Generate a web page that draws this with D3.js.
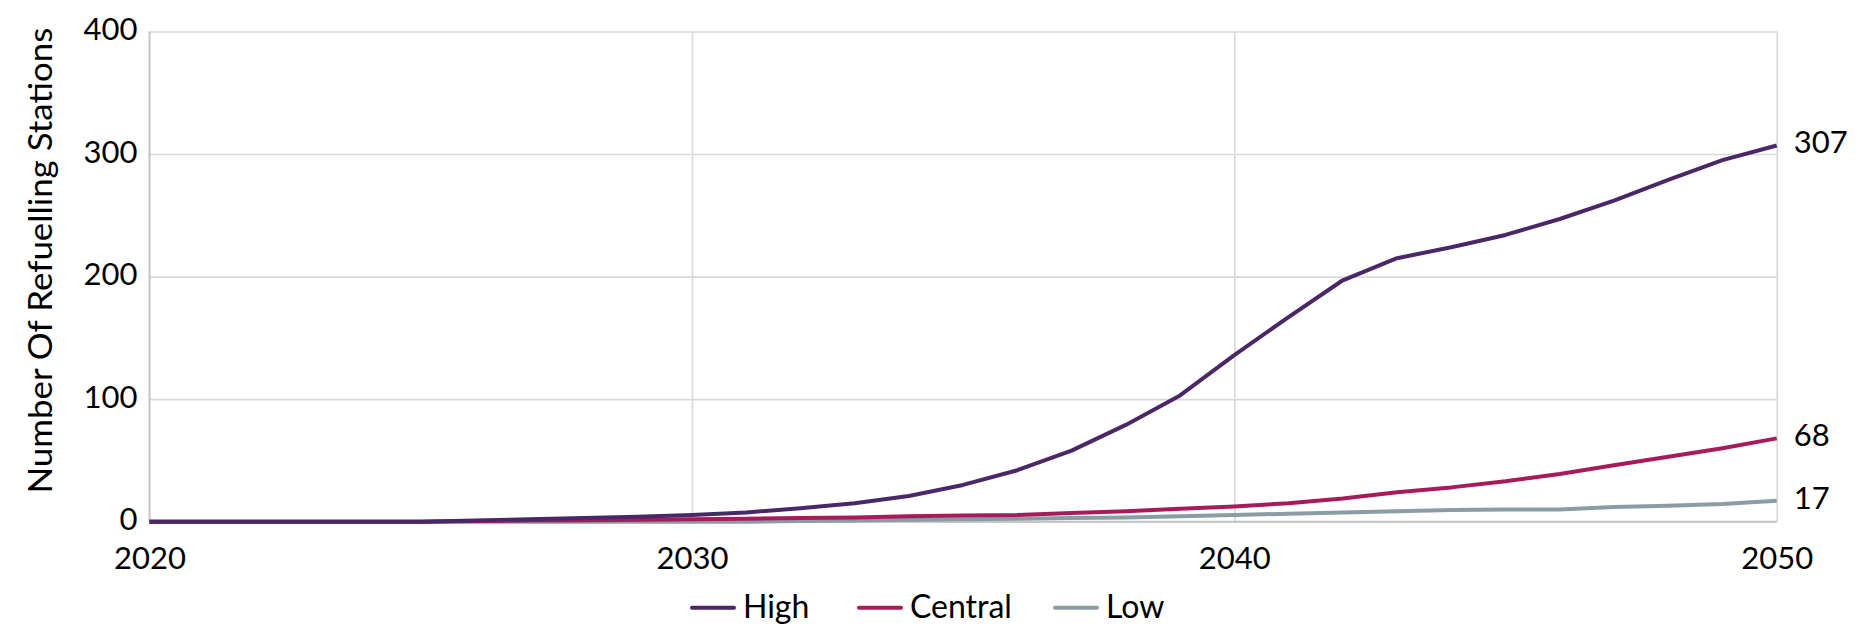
<!DOCTYPE html>
<html>
<head>
<meta charset="utf-8">
<script src="https://cdn.jsdelivr.net/npm/d3@7"></script>
<style>
  html, body { margin: 0; padding: 0; background: #fff; }
  svg { display: block; }
  text { font-family: Lato, "Open Sans", sans-serif; fill: #000; }
</style>
</head>
<body>
<svg id="chart" width="1856" height="633"></svg>
<script>
// ---- data ----
const years = d3.range(2020, 2051);
const highValues = [0,0,0,0,0,0,1,2,3,4,5.5,7.5,11,15,21,30,42,58,79,103,136,167,197,215,224,234,247,262,279,295,307];
const centralValues = [0,0,0,0,0,0,0.5,1,1.2,1.5,2,2.5,3,3.5,4.5,5,5.5,7,8.5,10.5,12.5,15,19,24,28,33,39,46,53,60,68];
const lowValues = [0,0,0,0,0,0,0,0,0,0,0,0,0.5,1,1.5,2,2.5,3,3.5,4.5,5.5,6.5,7.5,8.5,9.5,10,10,12,13,14.5,17];
const seriesNames = ["High", "Central", "Low"];
const seriesColors = ["#4a2868", "#a71b5b", "#8b9ca4"];
const yTicks = [0, 100, 200, 300, 400];
const xTicks = [2020, 2030, 2040, 2050];
const yTitle = "Number Of Refuelling Stations";

const series = [
  { name: seriesNames[0], color: seriesColors[0], values: highValues },
  { name: seriesNames[1], color: seriesColors[1], values: centralValues },
  { name: seriesNames[2], color: seriesColors[2], values: lowValues }
];

// ---- layout ----
const svg = d3.select("#chart");
const plotL = 149.5, plotR = 1776.7, plotT = 31.5, plotB = 521.7;

const x = d3.scaleLinear().domain([2020, 2050]).range([plotL, plotR]);
const y = d3.scaleLinear().domain([0, 400]).range([plotB, plotT]);

// horizontal gridlines
svg.append("g")
  .attr("transform", `translate(${plotL},0)`)
  .call(d3.axisLeft(y).tickValues(yTicks).tickSize(-(plotR - plotL)).tickFormat(""))
  .call(g => g.select(".domain").remove())
  .call(g => g.selectAll(".tick line").attr("stroke", "#d9d9d9").attr("stroke-width", 1.6));

// vertical gridlines
svg.append("g")
  .attr("transform", `translate(0,${plotB})`)
  .call(d3.axisBottom(x).tickValues(xTicks.slice(1)).tickSize(-(plotB - plotT)).tickFormat(""))
  .call(g => g.select(".domain").remove())
  .call(g => g.selectAll(".tick line").attr("stroke", "#d9d9d9").attr("stroke-width", 1.6));

// axis lines
svg.append("line").attr("x1", plotL).attr("x2", plotL).attr("y1", plotT).attr("y2", plotB)
  .attr("stroke", "#c4c4c4").attr("stroke-width", 2);
svg.append("line").attr("x1", plotL).attr("x2", plotR).attr("y1", plotB).attr("y2", plotB)
  .attr("stroke", "#c4c4c4").attr("stroke-width", 2);

// y tick labels
const yAxis = svg.append("g")
  .attr("transform", `translate(${plotL},0)`)
  .call(d3.axisLeft(y).tickValues(yTicks).tickSize(0).tickPadding(12).tickFormat(d3.format("d")));
yAxis.select(".domain").remove();
yAxis.selectAll("text")
  .attr("font-family", "Lato, 'Open Sans', sans-serif")
  .attr("font-size", 31).attr("fill", "#000")
  .attr("dy", null).attr("y", 8);

// x tick labels
const xAxis = svg.append("g")
  .attr("transform", `translate(0,${plotB})`)
  .call(d3.axisBottom(x).tickValues(xTicks).tickSize(0).tickFormat(d3.format("d")));
xAxis.select(".domain").remove();
xAxis.selectAll("text")
  .attr("font-family", "Lato, 'Open Sans', sans-serif")
  .attr("font-size", 31).attr("fill", "#000")
  .attr("dy", null).attr("y", 47);

// y title
svg.append("text")
  .attr("transform", `translate(52,${(plotT + plotB) / 2 - 16}) rotate(-90)`)
  .attr("text-anchor", "middle")
  .attr("font-size", 32)
  .attr("textLength", 466)
  .attr("lengthAdjust", "spacingAndGlyphs")
  .text(yTitle);

// lines
const line = d3.line()
  .x((d, i) => x(years[i]))
  .y(d => y(d));

[...series].reverse().forEach(s => {
  svg.append("path")
    .datum(s.values)
    .attr("fill", "none")
    .attr("stroke", s.color)
    .attr("stroke-width", 4)
    .attr("stroke-linejoin", "round")
    .attr("d", line);
});

// end labels
series.forEach(s => {
  const v = s.values[s.values.length - 1];
  svg.append("text")
    .attr("x", x(2050) + 17)
    .attr("y", y(v) + 8)
    .attr("font-size", 31)
    .text(d3.format("d")(v));
});

// legend
const legendX = [692, 859, 1055];
const legendY = 607.7;
series.forEach((s, i) => {
  const g = svg.append("g").attr("transform", `translate(${legendX[i]},${legendY})`);
  g.append("line").attr("x1", 0).attr("x2", 42).attr("y1", 0).attr("y2", 0)
    .attr("stroke", s.color).attr("stroke-width", 4).attr("stroke-linecap", "round");
  g.append("text").attr("x", 51).attr("y", 10).attr("font-size", 32).text(s.name);
});
</script>
</body>
</html>
